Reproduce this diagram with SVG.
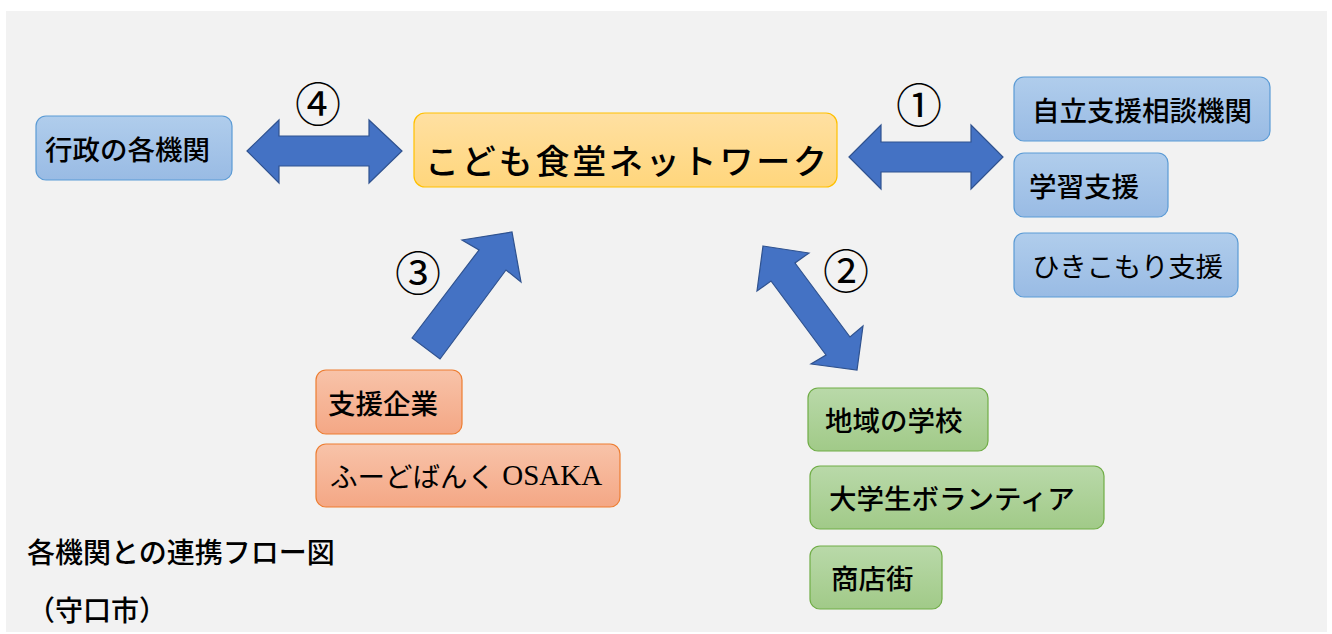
<svg xmlns="http://www.w3.org/2000/svg" width="1332" height="634" viewBox="0 0 1332 634">
<defs>
<linearGradient id="gBlue" x1="0" y1="0" x2="0" y2="1"><stop offset="0" stop-color="#b0cdec"/><stop offset="1" stop-color="#99bbe4"/></linearGradient>
<linearGradient id="gGreen" x1="0" y1="0" x2="0" y2="1"><stop offset="0" stop-color="#b9d9a9"/><stop offset="1" stop-color="#a1ca88"/></linearGradient>
<linearGradient id="gOrange" x1="0" y1="0" x2="0" y2="1"><stop offset="0" stop-color="#f8c3a9"/><stop offset="1" stop-color="#f4a785"/></linearGradient>
<linearGradient id="gGold" x1="0" y1="0" x2="0" y2="1"><stop offset="0" stop-color="#ffe0a2"/><stop offset="1" stop-color="#ffd67c"/></linearGradient>
</defs>
<style>
.blue{fill:url(#gBlue);stroke:#5b9bd5;stroke-width:1.2}
.green{fill:url(#gGreen);stroke:#70ad47;stroke-width:1.2}
.orange{fill:url(#gOrange);stroke:#ed7d31;stroke-width:1.2}
.gold{fill:url(#gGold);stroke:#ffc000;stroke-width:1.2}
.t{font-family:"Noto Sans CJK JP","Noto Sans CJK SC",sans-serif;font-size:27.5px;font-weight:500;fill:#000;dominant-baseline:central}
.arrow{fill:#4472c4;stroke:#2f528f;stroke-width:1.2;stroke-linejoin:miter}
.num{font-family:"Noto Sans CJK JP","DejaVu Sans",sans-serif;font-size:46px;fill:#000;text-anchor:middle;dominant-baseline:central}
</style>
<rect x="6" y="11" width="1321" height="621" fill="#f2f2f2"/>

<g id="connectors">
<polygon class="arrow" points="247,151 279,120 279,136 369,136 369,120 402,151 369,183 369,166 279,166 279,183"/>
<polygon class="arrow" points="849,157 881,125 881,142 971,142 971,125 1003,157 971,189 971,172 881,172 881,189"/>
<polygon class="arrow" points="412,338 479,250 462,240 512,232 521,282 506,270 440,359"/>
<polygon class="arrow" points="763,246 809,253 795,263 850,337 863,326 857,370 811,364 826,355 771,281 757,291"/>
<text class="num" x="318" y="101">④</text>
<text class="num" x="919" y="102">①</text>
<text class="num" x="846" y="268">②</text>
<text class="num" x="418" y="270">③</text>
</g>

<g id="node-gyosei">
<rect class="blue" x="36" y="116" width="196" height="64" rx="10"/>
<text class="t" x="45" y="148">行政の各機関</text>
</g>

<g id="node-center">
<rect class="gold" x="414" y="113" width="423" height="74" rx="11"/>
<text class="t" x="425" y="159" style="font-size:34px;font-weight:500" textLength="402" lengthAdjust="spacing">こども食堂ネットワーク</text>
</g>

<g id="node-jiritsu">
<rect class="blue" x="1014" y="77" width="256" height="64" rx="10"/>
<text class="t" x="1032" y="109">自立支援相談機関</text>
</g>
<g id="node-gakushu">
<rect class="blue" x="1014" y="153" width="154" height="64" rx="10"/>
<text class="t" x="1029" y="185">学習支援</text>
</g>
<g id="node-hikikomori">
<rect class="blue" x="1014" y="233" width="224" height="64" rx="10"/>
<text class="t" x="1032" y="265" style="font-weight:400" textLength="191" lengthAdjust="spacing">ひきこもり支援</text>
</g>

<g id="node-kigyo">
<rect class="orange" x="316" y="370" width="146" height="64" rx="10"/>
<text class="t" x="328" y="402">支援企業</text>
</g>
<g id="node-foodbank">
<rect class="orange" x="316" y="444" width="304" height="63" rx="10"/>
<text class="t" x="330" y="475" style="font-weight:400">ふーどばんく<tspan font-family="Liberation Serif, serif" font-size="29"> OSAKA</tspan></text>
</g>

<g id="node-gakko">
<rect class="green" x="808" y="388" width="180" height="63" rx="10"/>
<text class="t" x="825" y="419">地域の学校</text>
</g>
<g id="node-volunteer">
<rect class="green" x="810" y="466" width="294" height="63" rx="10"/>
<text class="t" x="829" y="497">大学生ボランティア</text>
</g>
<g id="node-shotengai">
<rect class="green" x="810" y="546" width="132" height="63" rx="10"/>
<text class="t" x="831" y="577">商店街</text>
</g>

<g id="title">
<text class="t" x="27" y="551" style="font-size:28px">各機関との連携フロー図</text>
<text class="t" x="27" y="609" style="font-size:28px">（守口市）</text>
</g>
</svg>
